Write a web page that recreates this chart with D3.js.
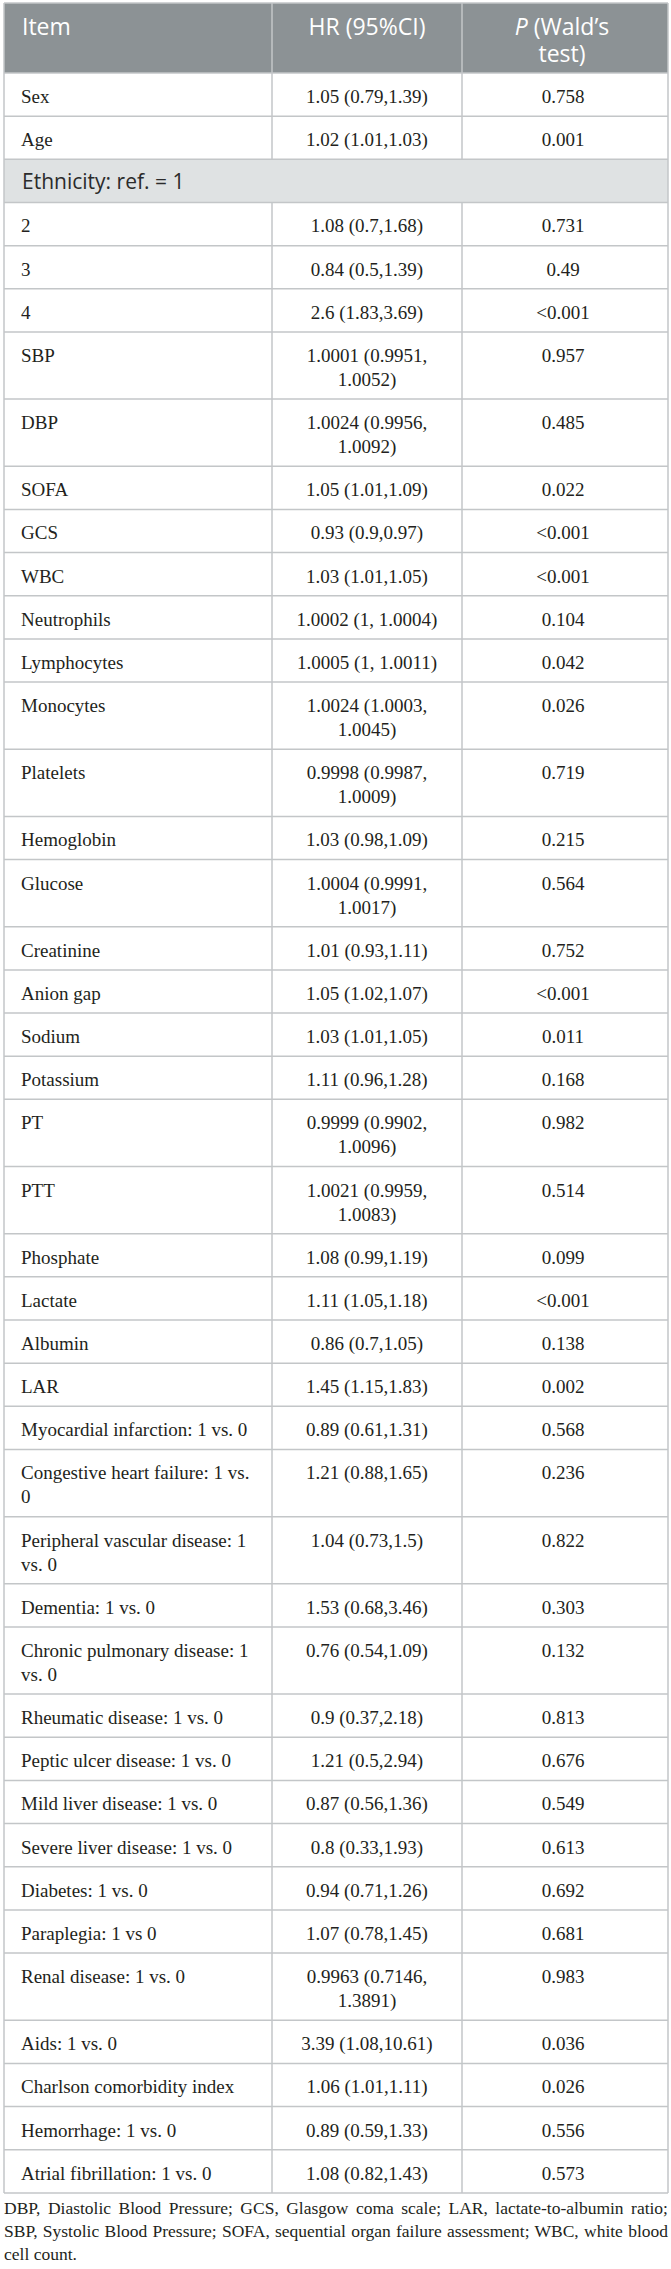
<!DOCTYPE html>
<html>
<head>
<meta charset="utf-8">
<script src="https://cdn.jsdelivr.net/npm/d3@7"></script>
<style>
  body { margin: 0; background: #fff; }
  .cell { font-family: "Liberation Serif", "Times New Roman", serif; font-size: 19px; fill: #231f20; }
  .head { font-family: "Open Sans", sans-serif; font-size: 23px; fill: #fff; }
  .section { font-family: "Open Sans", sans-serif; font-size: 21px; fill: #2b2b2b; }
  #note {
    position: absolute; left: 4px; top: 2197px; width: 664px;
    font-family: "Liberation Serif", "Times New Roman", serif;
    font-size: 17.5px; line-height: 23px; text-align: justify; color: #231f20;
  }
</style>
</head>
<body>
<script>
// table content
const items = ["Sex", "Age", "Ethnicity: ref. = 1", "2", "3", "4", "SBP", "DBP", "SOFA", "GCS", "WBC",
  "Neutrophils", "Lymphocytes", "Monocytes", "Platelets", "Hemoglobin", "Glucose", "Creatinine",
  "Anion gap", "Sodium", "Potassium", "PT", "PTT", "Phosphate", "Lactate", "Albumin", "LAR",
  "Myocardial infarction: 1 vs. 0", "Congestive heart failure: 1 vs. 0",
  "Peripheral vascular disease: 1 vs. 0", "Dementia: 1 vs. 0", "Chronic pulmonary disease: 1 vs. 0",
  "Rheumatic disease: 1 vs. 0", "Peptic ulcer disease: 1 vs. 0", "Mild liver disease: 1 vs. 0",
  "Severe liver disease: 1 vs. 0", "Diabetes: 1 vs. 0", "Paraplegia: 1 vs 0", "Renal disease: 1 vs. 0",
  "Aids: 1 vs. 0", "Charlson comorbidity index", "Hemorrhage: 1 vs. 0", "Atrial fibrillation: 1 vs. 0"];

const hrCI = ["1.05 (0.79,1.39)", "1.02 (1.01,1.03)", null, "1.08 (0.7,1.68)", "0.84 (0.5,1.39)",
  "2.6 (1.83,3.69)", "1.0001 (0.9951, 1.0052)", "1.0024 (0.9956, 1.0092)", "1.05 (1.01,1.09)",
  "0.93 (0.9,0.97)", "1.03 (1.01,1.05)", "1.0002 (1, 1.0004)", "1.0005 (1, 1.0011)",
  "1.0024 (1.0003, 1.0045)", "0.9998 (0.9987, 1.0009)", "1.03 (0.98,1.09)", "1.0004 (0.9991, 1.0017)",
  "1.01 (0.93,1.11)", "1.05 (1.02,1.07)", "1.03 (1.01,1.05)", "1.11 (0.96,1.28)",
  "0.9999 (0.9902, 1.0096)", "1.0021 (0.9959, 1.0083)", "1.08 (0.99,1.19)", "1.11 (1.05,1.18)",
  "0.86 (0.7,1.05)", "1.45 (1.15,1.83)", "0.89 (0.61,1.31)", "1.21 (0.88,1.65)", "1.04 (0.73,1.5)",
  "1.53 (0.68,3.46)", "0.76 (0.54,1.09)", "0.9 (0.37,2.18)", "1.21 (0.5,2.94)", "0.87 (0.56,1.36)",
  "0.8 (0.33,1.93)", "0.94 (0.71,1.26)", "1.07 (0.78,1.45)", "0.9963 (0.7146, 1.3891)",
  "3.39 (1.08,10.61)", "1.06 (1.01,1.11)", "0.89 (0.59,1.33)", "1.08 (0.82,1.43)"];

const pValues = ["0.758", "0.001", null, "0.731", "0.49", "<0.001", "0.957", "0.485", "0.022", "<0.001",
  "<0.001", "0.104", "0.042", "0.026", "0.719", "0.215", "0.564", "0.752", "<0.001", "0.011", "0.168",
  "0.982", "0.514", "0.099", "<0.001", "0.138", "0.002", "0.568", "0.236", "0.822", "0.303", "0.132",
  "0.813", "0.676", "0.549", "0.613", "0.692", "0.681", "0.983", "0.036", "0.026", "0.556", "0.573"];

const footnote = "DBP, Diastolic Blood Pressure; GCS, Glasgow coma scale; LAR, lactate-to-albumin ratio; " +
  "SBP, Systolic Blood Pressure; SOFA, sequential organ failure assessment; WBC, white blood cell count.";

const width = 671;
const height = 2269;
const tableLeft = 4, tableRight = 668, tableTop = 3, headHeight = 70;
const lineHeight = 24, rowPad = 19.16;
const borderColor = "#c3c6c8";

const colX = d3.scaleOrdinal().domain(["item", "hr", "p"]).range([4, 272, 462]);
const colW = { item: 268, hr: 190, p: 206 };
const colText = { item: 235, hr: 156, p: 170 };

var svg = d3.select("body").append("svg")
  .attr("width", width)
  .attr("height", height)
  .style("position", "absolute").style("left", 0).style("top", 0);

var probe = svg.append("text").attr("class", "cell").attr("visibility", "hidden");

function wrap(str, maxW) {
  if (str == null) return [];
  var words = str.split(" "), lines = [], cur = "";
  words.forEach(function(w) {
    var t = cur ? cur + " " + w : w;
    probe.text(t);
    if (probe.node().getComputedTextLength() > maxW && cur) {
      lines.push(cur);
      cur = w;
    } else cur = t;
  });
  lines.push(cur);
  return lines;
}

var rows = items.map(function(d, i) {
  var section = hrCI[i] == null;
  var r = {
    item: section ? [d] : wrap(d, colText.item),
    hr: wrap(hrCI[i], colText.hr),
    p: wrap(pValues[i], colText.p),
    section: section
  };
  r.lines = Math.max(r.item.length, r.hr.length, r.p.length);
  r.h = rowPad + lineHeight * r.lines;
  return r;
});
probe.remove();

var offsets = d3.cumsum(rows, d => d.h);
rows.forEach(function(r, i) { r.y = tableTop + headHeight + (i ? offsets[i - 1] : 0); });
var tableBottom = tableTop + headHeight + offsets[offsets.length - 1];

// header
svg.append("rect")
  .attr("x", tableLeft).attr("y", tableTop)
  .attr("width", tableRight - tableLeft).attr("height", headHeight)
  .attr("fill", "#8c9295");

svg.append("text").attr("class", "head")
  .attr("x", colX("item") + 18).attr("y", tableTop + 32).text("Item");
svg.append("text").attr("class", "head").attr("text-anchor", "middle")
  .attr("x", colX("hr") + colW.hr / 2).attr("y", tableTop + 32).text("HR (95%CI)");

// "P (Wald's" : italic P followed by roman text, centred as one line
var pCenter = colX("p") + colW.p / 2 - 3;
var pItalic = svg.append("text").attr("class", "head").attr("font-style", "italic")
  .attr("y", tableTop + 32).text("P");
var pRest = svg.append("text").attr("class", "head")
  .attr("y", tableTop + 32).text(" (Wald\u2019s").attr("xml:space", "preserve");
var wP = pItalic.node().getComputedTextLength(), wRest = pRest.node().getComputedTextLength();
var pStart = pCenter - (wP + wRest) / 2;
pItalic.attr("x", pStart);
pRest.attr("x", pStart + wP);
svg.append("text").attr("class", "head").attr("text-anchor", "middle")
  .attr("x", pCenter).attr("y", tableTop + 59).text("test)");

// body rows
var g = svg.selectAll("g.row").data(rows).enter().append("g").attr("class", "row")
  .attr("transform", d => "translate(0," + d.y + ")");

g.filter(d => d.section).append("rect")
  .attr("x", tableLeft).attr("width", tableRight - tableLeft)
  .attr("height", d => d.h).attr("fill", "#dfe2e3");

g.filter(d => d.section).append("text").attr("class", "section")
  .attr("x", colX("item") + 18).attr("y", 29.5).text(d => d.item[0]);

var cells = g.filter(d => !d.section);

cells.append("text").attr("class", "cell")
  .attr("x", colX("item") + 17)
  .selectAll("tspan").data(d => d.item).enter().append("tspan")
  .attr("x", colX("item") + 17).attr("y", (d, i) => 30 + i * lineHeight).text(d => d);

["hr", "p"].forEach(function(k) {
  cells.append("text").attr("class", "cell").attr("text-anchor", "middle")
    .selectAll("tspan").data(d => d[k]).enter().append("tspan")
    .attr("x", colX(k) + colW[k] / 2 + (k === "p" ? -2 : 0))
    .attr("y", (d, i) => 30 + i * lineHeight).text(d => d);
});

// grid lines
var hLines = [tableTop, tableTop + headHeight].concat(rows.map(d => d.y + d.h));
svg.selectAll("line.h").data(hLines).enter().append("line").attr("class", "h")
  .attr("x1", tableLeft).attr("x2", tableRight)
  .attr("y1", d => d).attr("y2", d => d)
  .attr("stroke", borderColor).attr("stroke-width", 1.5);

svg.selectAll("line.outer").data([tableLeft, tableRight]).enter().append("line").attr("class", "outer")
  .attr("x1", d => d).attr("x2", d => d)
  .attr("y1", tableTop).attr("y2", tableBottom)
  .attr("stroke", borderColor).attr("stroke-width", 1.5);

var segs = [{ y: tableTop, h: headHeight }].concat(rows.filter(d => !d.section));
["hr", "p"].forEach(function(k) {
  svg.selectAll("line.v" + k).data(segs).enter().append("line").attr("class", "v" + k)
    .attr("x1", colX(k)).attr("x2", colX(k))
    .attr("y1", d => d.y).attr("y2", d => d.y + d.h)
    .attr("stroke", borderColor).attr("stroke-width", 1.5);
});

d3.select("body").append("div").attr("id", "note")
  .style("top", (tableBottom + 4.5) + "px")
  .text(footnote);
</script>
</body>
</html>
